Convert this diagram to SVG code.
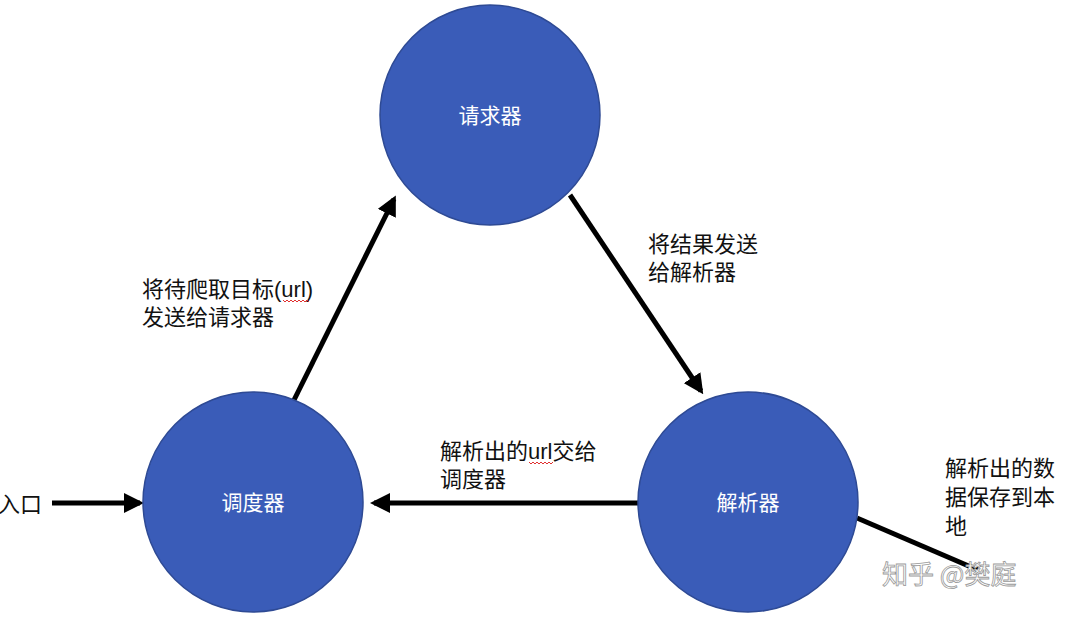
<svg xmlns="http://www.w3.org/2000/svg" width="1080" height="621" viewBox="0 0 1080 621">
<style>
.node{fill:#3A5CB8;stroke:#2E4A94;stroke-width:1.5}
.nl{font-family:"Liberation Sans","Noto Sans CJK SC",sans-serif;font-size:21px;fill:#ffffff;text-anchor:middle}
.lbl{font-family:"Liberation Sans","Noto Sans CJK SC",sans-serif;font-size:22px;fill:#111111}
.edge{stroke:#000;stroke-width:5;fill:none}
.wm{font-family:"Noto Sans CJK SC",sans-serif;font-size:26px;fill:#ffffff;stroke:#9a9a9a;stroke-width:0.8}
</style>
<defs>
<marker id="ah" markerWidth="4" markerHeight="4" refX="3.2" refY="2" orient="auto" markerUnits="strokeWidth">
<path d="M0,0 L4,2 L0,4 Z" fill="#000"/>
</marker>
</defs>
<rect width="1080" height="621" fill="#ffffff"/>
<g id="edges">
<line class="edge" x1="293" y1="402" x2="394" y2="199" marker-end="url(#ah)"/>
<line class="edge" x1="570" y1="195" x2="701" y2="391" marker-end="url(#ah)"/>
<line class="edge" x1="638" y1="503" x2="374" y2="503" marker-end="url(#ah)"/>
<line class="edge" x1="52" y1="503" x2="140" y2="503" marker-end="url(#ah)"/>
<line class="edge" x1="857" y1="518" x2="978" y2="570"/>
</g>
<g id="node-requester">
<circle class="node" cx="490" cy="115" r="110"/>
<text class="nl" x="490" y="123">请求器</text>
</g>
<g id="node-scheduler">
<circle class="node" cx="253" cy="502" r="110"/>
<text class="nl" x="253" y="510">调度器</text>
</g>
<g id="node-parser">
<circle class="node" cx="748" cy="502" r="110"/>
<text class="nl" x="748" y="510">解析器</text>
</g>
<g id="labels">
<text class="lbl" x="142" y="297">将待爬取目标(url)</text>
<text class="lbl" x="142" y="325">发送给请求器</text>
<path d="M283,300 l2,2 l2,-2 l2,2 l2,-2 l2,2 l2,-2 l2,2 l2,-2 l2,2 l2,-2 l2,2 l2,-2 l2,2" stroke="#e03030" stroke-width="1" fill="none"/>
<text class="lbl" x="648" y="252">将结果发送</text>
<text class="lbl" x="648" y="280">给解析器</text>
<text class="lbl" x="440" y="459">解析出的url交给</text>
<text class="lbl" x="440" y="487">调度器</text>
<path d="M529,462 l2,2 l2,-2 l2,2 l2,-2 l2,2 l2,-2 l2,2 l2,-2 l2,2 l2,-2 l2,2 l2,-2" stroke="#e03030" stroke-width="1" fill="none"/>
<text class="lbl" x="945" y="476">解析出的数</text>
<text class="lbl" x="945" y="505">据保存到本</text>
<text class="lbl" x="945" y="534">地</text>
<text class="lbl" x="-2" y="512">入口</text>
</g>
<text class="wm" x="882" y="584">知乎 @樊庭</text>
</svg>
